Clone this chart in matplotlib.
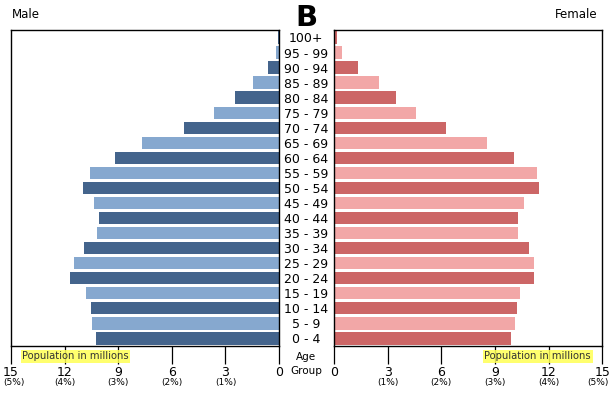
import matplotlib.pyplot as plt
import matplotlib.transforms as mtransforms

# -------------------- Data --------------------
age_groups = ['0 - 4', '5 - 9', '10 - 14', '15 - 19', '20 - 24', '25 - 29', '30 - 34',
              '35 - 39', '40 - 44', '45 - 49', '50 - 54', '55 - 59', '60 - 64', '65 - 69',
              '70 - 74', '75 - 79', '80 - 84', '85 - 89', '90 - 94', '95 - 99', '100+']
male = [10.24, 10.46, 10.5, 10.78, 11.68, 11.46, 10.9, 10.17, 10.06, 10.34, 10.95,
        10.6, 9.16, 7.65, 5.32, 3.64, 2.45, 1.44, 0.62, 0.17, 0.05]
female = [9.87, 10.1, 10.21, 10.38, 11.16, 11.16, 10.88, 10.27, 10.27, 10.6, 11.44,
          11.33, 10.04, 8.58, 6.28, 4.6, 3.48, 2.5, 1.33, 0.43, 0.15]
ticks = [0, 3, 6, 9, 12, 15]
pct_labels = ['', '(1%)', '(2%)', '(3%)', '(4%)', '(5%)']

male_colors = ['#44648c', '#86a8cf']
female_colors = ['#cc6666', '#f2a7a7']

# -------------------- Figure --------------------
fig = plt.figure(figsize=(6.12, 3.99), dpi=100)
axL = fig.add_axes([0.018, 0.133, 0.438, 0.792])
axR = fig.add_axes([0.546, 0.133, 0.438, 0.792])

y = range(len(age_groups))
axL.barh(y, male, height=0.82, color=[male_colors[i % 2] for i in y])
axR.barh(y, female, height=0.82, color=[female_colors[i % 2] for i in y])

for ax in (axL, axR):
    ax.set_ylim(-0.5, len(age_groups) - 0.5)
    ax.set_yticks([])
    ax.set_xticks(ticks)
    ax.set_xticklabels([str(t) for t in ticks], fontsize=9)
    ax.tick_params(axis='x', length=13, width=0.9, pad=1.5)
    for s in ax.spines.values():
        s.set_linewidth(1.0)

axL.set_xlim(15, 0)
axR.set_xlim(0, 15)

# percent labels under the numbers (nudged inward at the outer ends)
for ax, nudge in ((axL, -0.15), (axR, -0.25)):
    trans = mtransforms.blended_transform_factory(ax.transData, ax.transAxes)
    for t, p in zip(ticks, pct_labels):
        x = t + nudge if t == 15 else t
        ax.text(x, -0.117, p, transform=trans, ha='center', va='center', fontsize=6.5)

# age labels between the two panels
trans_mid = mtransforms.blended_transform_factory(fig.transFigure, axL.transData)
for i, lab in enumerate(age_groups):
    fig.text(0.5, i - 0.1, lab, fontsize=9, ha='center', va='center', transform=trans_mid)

fig.text(0.5, 1 - 357 / 399, 'Age', fontsize=7.5, ha='center', va='center')
fig.text(0.5, 1 - 371 / 399, 'Group', fontsize=7.5, ha='center', va='center')

# titles
fig.text(0.02, 1 - 15 / 399, 'Male', fontsize=8.5, ha='left', va='center')
fig.text(0.976, 1 - 15 / 399, 'Female', fontsize=8.5, ha='right', va='center')
fig.text(0.5, 1 - 18 / 399, 'B', fontsize=21, fontweight='bold', ha='center', va='center')

# axis captions
box = dict(boxstyle='square,pad=0.15', facecolor='#ffff55', edgecolor='none', alpha=0.85)
fig.text(22 / 612, 1 - 356 / 399, 'Population in millions', fontsize=7.2,
         ha='left', va='center', bbox=box, color='#333333')
fig.text(591 / 612, 1 - 356 / 399, 'Population in millions', fontsize=7.2,
         ha='right', va='center', bbox=box, color='#333333')

fig.savefig('out.png', dpi=100)
